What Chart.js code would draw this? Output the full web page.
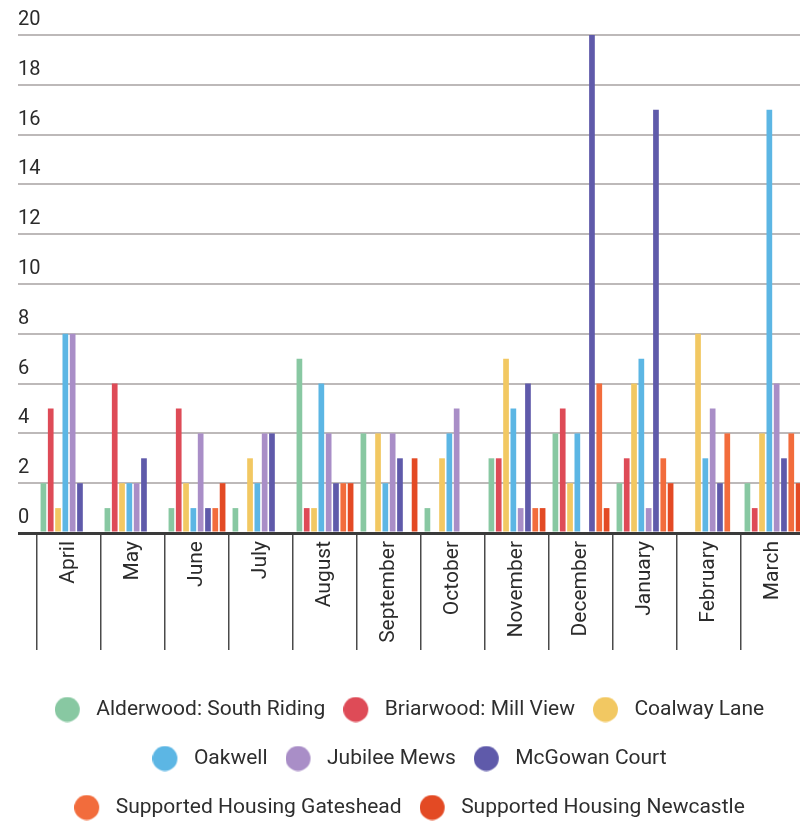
<!DOCTYPE html>
<html>
<head>
<meta charset="utf-8">
<script src="https://cdn.jsdelivr.net/npm/chart.js@4.4.1/dist/chart.umd.min.js"></script>
<style>
  html, body { margin: 0; padding: 0; background: #fff; overflow: hidden; }
  #wrap { width: 814px; height: 828px; position: relative; }
</style>
</head>
<body>
<div id="wrap"><canvas id="monthChart"></canvas></div>
<script>
var months = ["April", "May", "June", "July", "August", "September", "October", "November", "December", "January", "February", "March"];
var yTicks = [0, 2, 4, 6, 8, 10, 12, 14, 16, 18, 20];

var alderwood = [2, 1, 1, 1, 7, 4, 1, 3, 4, 2, 0, 2];
var briarwood = [5, 6, 5, 0, 1, 0, 0, 3, 5, 3, 0, 1];
var coalway = [1, 2, 2, 3, 1, 4, 3, 7, 2, 6, 8, 4];
var oakwell = [8, 2, 1, 2, 6, 2, 4, 5, 4, 7, 3, 17];
var jubilee = [8, 2, 4, 4, 4, 4, 5, 1, 0, 1, 5, 6];
var mcgowan = [2, 3, 1, 4, 2, 3, 0, 6, 20, 17, 2, 3];
var gateshead = [0, 0, 1, 0, 2, 0, 0, 1, 6, 3, 4, 4];
var newcastle = [0, 0, 2, 0, 2, 3, 0, 1, 1, 2, 0, 2];

var seriesNames = ["Alderwood: South Riding", "Briarwood: Mill View", "Coalway Lane", "Oakwell", "Jubilee Mews", "McGowan Court", "Supported Housing Gateshead", "Supported Housing Newcastle"];
var seriesData = [alderwood, briarwood, coalway, oakwell, jubilee, mcgowan, gateshead, newcastle];
var seriesColors = ["#88c8a2", "#de4b57", "#f2c862", "#5cb6e4", "#a98ec7", "#5f5aaa", "#f26c3c", "#e34a24"];

// legend dot, circle sits left of the box centre so the text gap matches
function makeDot(color) {
  var c = document.createElement("canvas");
  c.width = 41;
  c.height = 26;
  var g = c.getContext("2d");
  g.fillStyle = color;
  g.beginPath();
  g.arc(12.5, 13, 12.5, 0, Math.PI * 2);
  g.fill();
  return c;
}

var datasets = seriesNames.map(function (name, i) {
  return {
    label: name,
    data: seriesData[i],
    backgroundColor: seriesColors[i],
    borderWidth: 0,
    pointStyle: makeDot(seriesColors[i]),
    categoryPercentage: 0.914,
    barPercentage: 0.78,
  };
});

new Chart("monthChart", {
  type: "bar",
  data: {
    labels: months,
    datasets: datasets,
  },
  options: {
    responsive: true,
    maintainAspectRatio: false,
    animation: false,
    layout: {
      padding: { top: 35, left: 24, right: 9, bottom: 0 },
    },
    plugins: {
      tooltip: { enabled: false },
      legend: {
        position: "bottom",
        labels: {
          usePointStyle: true,
          boxWidth: 21,
          padding: 28,
          color: "#2e2e2e",
          font: { family: "Roboto", size: 21 },
        },
      },
    },
    scales: {
      x: {
        grid: {
          display: true,
          offset: true,
          drawOnChartArea: false,
          drawTicks: true,
          tickLength: 117,
          color: "#4a4a4a",
          lineWidth: 1.5,
        },
        border: { display: true, color: "#3a3a3a", width: 3 },
        ticks: {
          autoSkip: false,
          minRotation: 90,
          maxRotation: 90,
          padding: -109,
          color: "#2b2b2b",
          font: { family: "Roboto", size: 21 },
        },
        afterFit: function (scale) {
          scale.height = 138;
        },
      },
      y: {
        min: yTicks[0],
        max: yTicks[yTicks.length - 1],
        afterBuildTicks: function (scale) {
          scale.ticks = yTicks.map(function (v) {
            return { value: v };
          });
        },
        grid: {
          drawTicks: true,
          tickLength: 19,
          color: function (ctx) {
            return ctx.tick && ctx.tick.value === 0 ? "#3a3a3a" : "#bdb9b9";
          },
          lineWidth: function (ctx) {
            return ctx.tick && ctx.tick.value === 0 ? 3 : 2;
          },
        },
        border: { display: false },
        ticks: {
          mirror: true,
          crossAlign: "near",
          labelOffset: -15,
          padding: -19,
          color: "#2b2b2b",
          font: { family: "Roboto", size: 20 },
        },
        afterFit: function (scale) {
          scale.width = 13;
        },
      },
    },
  },
});
</script>
</body>
</html>
